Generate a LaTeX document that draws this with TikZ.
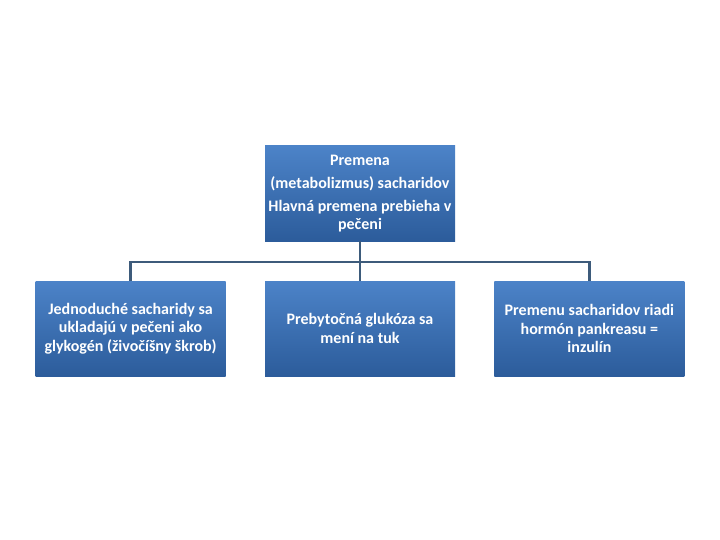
\documentclass[tikz,border=0pt]{standalone}
\usepackage{fontspec}
\setmainfont{Carlito}
\usetikzlibrary{positioning}
\definecolor{boxtop}{HTML}{4C83C8}
\definecolor{boxbot}{HTML}{2C5C9B}
\definecolor{linkcol}{HTML}{3D5B7B}

\begin{document}
\begin{tikzpicture}[x=1pt,y=-1pt,
  box/.style={rectangle,top color=boxtop,bottom color=boxbot,draw=none,
    minimum width=190pt,minimum height=95pt,align=center,
    text=white,font=\fontsize{16}{18.5}\selectfont\bfseries,inner sep=0pt},
  link/.style={linkcol,line width=2.6pt}]

  \useasboundingbox (0,0) rectangle (720,540);

  \node[box] (top) at (360,193.5) {Premena\\[4.5pt] (metabolizmus) sacharidov\\[4.5pt] Hlavná premena prebieha v\\ pečeni};
  \node[box] (mid) at (360,328.5) {Prebytočná glukóza sa\\ mení na tuk};
  \node[box,left=39pt of mid] (left) {Jednoduché sacharidy sa\\ ukladajú v pečeni ako\\ glykogén (živočíšny škrob)};
  \node[box,right=39pt of mid] (right) {Premenu sacharidov riadi\\ hormón pankreasu =\\ inzulín};

  \coordinate (bus) at (360,262);
  \draw[link] (top.south) -- (bus);
  \draw[link] (bus) -| (left.north);
  \draw[link] (bus) -- (mid.north);
  \draw[link] (bus) -| (right.north);
\end{tikzpicture}
\end{document}
